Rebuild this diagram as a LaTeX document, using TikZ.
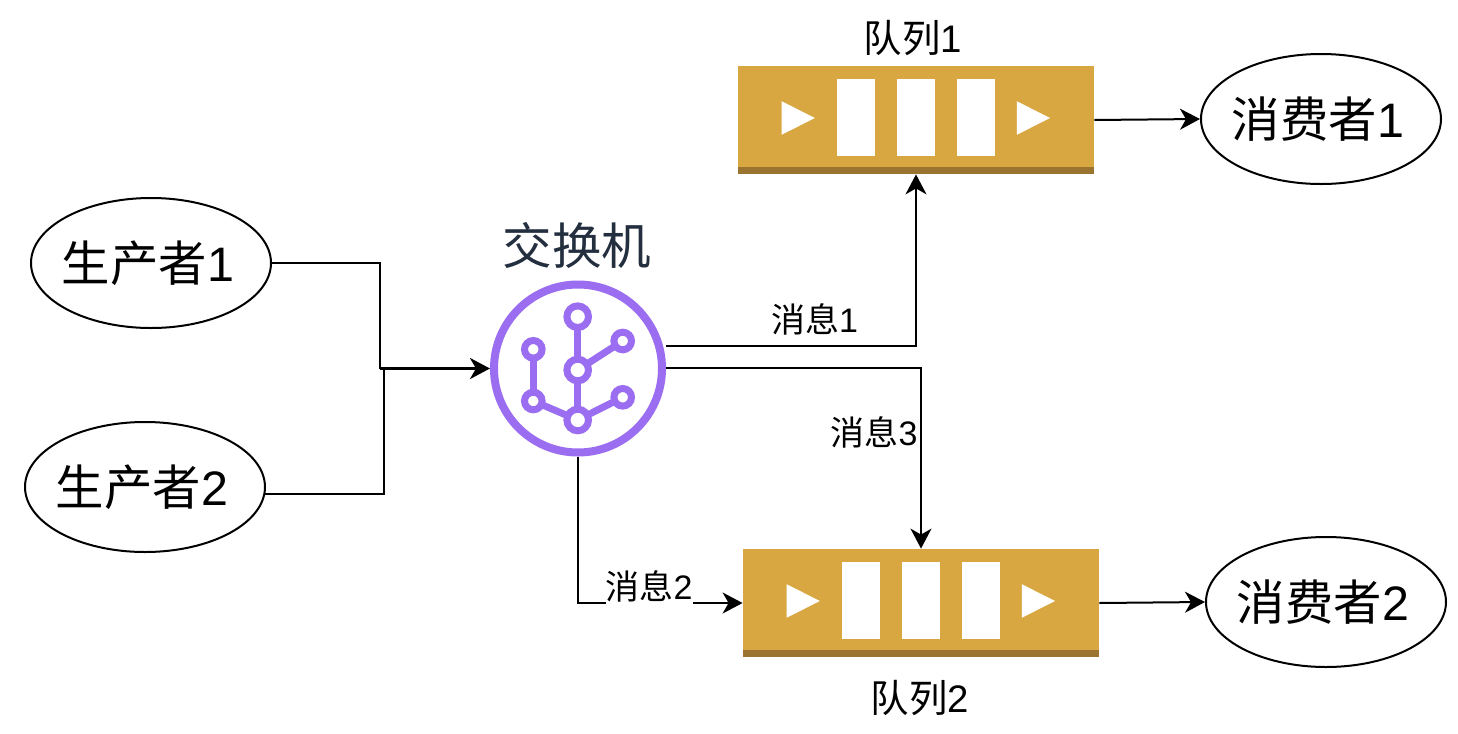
\documentclass[tikz,border=0pt]{standalone}
\usepackage{fontspec}
\setmainfont{Noto Sans CJK SC}
\newfontfamily\numfont{Liberation Sans}
\usetikzlibrary{shapes.geometric, arrows.meta, positioning}

\definecolor{queuegold}{HTML}{D9A741}
\definecolor{queuedark}{HTML}{9A7430}
\definecolor{exchpurple}{HTML}{9B6DF0}
\definecolor{exchtext}{HTML}{232F3E}

\tikzset{
    main/.style = {draw, ellipse, line width=1pt, minimum width=120pt, minimum height=65pt, inner ysep=0pt, inner xsep=-6pt, font=\fontsize{24.2}{26}\selectfont, execute at end node=\hspace*{3pt}},
    queuebody/.style = {fill=queuegold, minimum width=178pt, minimum height=54pt, inner sep=0pt},
    queuetext/.style = {font=\fontsize{19.2}{22}\selectfont},
    msglabel/.style = {font=\fontsize{17}{19}\selectfont, inner sep=0pt},
    link/.style = {line width=1pt, -{Stealth[length=10pt, width=10.5pt, inset=3pt]}},
    iconline/.style = {draw=exchpurple, line width=3.5pt},
    iconbig/.style = {circle, draw=exchpurple, line width=3.5pt, fill=white, minimum size=10.8pt, inner sep=0pt},
    iconsmall/.style = {circle, draw=exchpurple, line width=3.5pt, fill=white, minimum size=8.8pt, inner sep=0pt}
}

% draws the strip, slots and triangles of a queue
\newcommand{\queuedetail}[1]{
    \fill[queuedark] ([yshift=3.8pt]#1.south west) rectangle (#1.south east);
    \foreach \dx in {-39.6, -9.6, 20.4}
        \fill[white] ([xshift=\dx pt, yshift=-6.6pt]#1.north) rectangle ++(19.2pt, -38.4pt);
    \foreach \dx in {-67.2, 50.4}
        \fill[white] ([xshift=\dx pt, yshift=-17.8pt]#1.north) -- ++(16.6pt, -8.4pt) -- ++(-16.6pt, -8.4pt) -- cycle;
}

\begin{document}
\begin{tikzpicture}[x=0.5pt, y=-0.5pt]
    \useasboundingbox (0,0) rectangle (1458,734);

    \node[main] (prod1) at (151,263) {生产者{\numfont 1}};
    \node[main] (prod2) at (145,487) {生产者{\numfont 2}};
    \node[main] (cons1) at (1321,119) {消费者{\numfont 1}};
    \node[main] (cons2) at (1326,602) {消费者{\numfont 2}};

    \node[queuebody] (queue1) at (916,120) {};
    \node[queuebody] (queue2) at (921,603) {};
    \queuedetail{queue1}
    \queuedetail{queue2}
    \node[queuetext] (name1) at (913,38) {队列{\numfont 1}};
    \node[queuetext] (name2) at (920,698) {队列{\numfont 2}};

    \node[circle, draw=exchpurple, line width=4pt, fill=white, minimum size=84pt, inner sep=0pt] (exch) at (578,368.5) {};
    \node[font=\fontsize{24.8}{28}\selectfont, text=exchtext] (exchname) at (577,245) {交换机};

    % icon inside the exchange
    \coordinate (i1) at (577.7,316.7);
    \coordinate (i2) at (577.7,370);
    \coordinate (i3) at (577.7,420);
    \coordinate (i4) at (622.7,341);
    \coordinate (i5) at (622.7,397.3);
    \coordinate (i6) at (533.3,349.3);
    \coordinate (i7) at (533.3,401);
    \draw[iconline] (i1) -- (i3);
    \draw[iconline] (i2) -- (i4);
    \draw[iconline] (i3) -- (i5);
    \draw[iconline] (i3) -- (i7);
    \draw[iconline] (i6) -- (i7);
    \foreach \n in {i1, i2, i3}
        \node[iconbig] at (\n) {};
    \foreach \n in {i4, i5, i6, i7}
        \node[iconsmall] at (\n) {};

    % free ends on the exchange and the producers
    \coordinate (prod1out) at (271,263);
    \coordinate (prod2out) at (265,494);
    \coordinate (exchup) at (666,346);
    \coordinate (exchmid) at (666,368);
    \coordinate (join) at (380,368.5);

    \draw[line width=1pt] (prod1out) -| (join);
    \draw[line width=1pt] (prod2out) -| (384,368.5);
    \draw[link, line width=1.4pt] (join) -- (exch.west);

    \draw[link] (exchup) -| node [msglabel, pos=0.297, yshift=13.5pt] {消息{\numfont 1}} (queue1.south);
    \draw[link] (exchmid) -| node [msglabel, pos=0.678, xshift=-23.5pt] {消息{\numfont 3}} (queue2.north);
    \draw[link] (exch.south) |- node [msglabel, pos=0.716, yshift=8.5pt, fill=white, inner ysep=2pt] {消息{\numfont 2}} (queue2.west);
    \draw[link] (queue1.east) -- (cons1.west);
    \draw[link] (queue2.east) -- (cons2.west);
\end{tikzpicture}
\end{document}
